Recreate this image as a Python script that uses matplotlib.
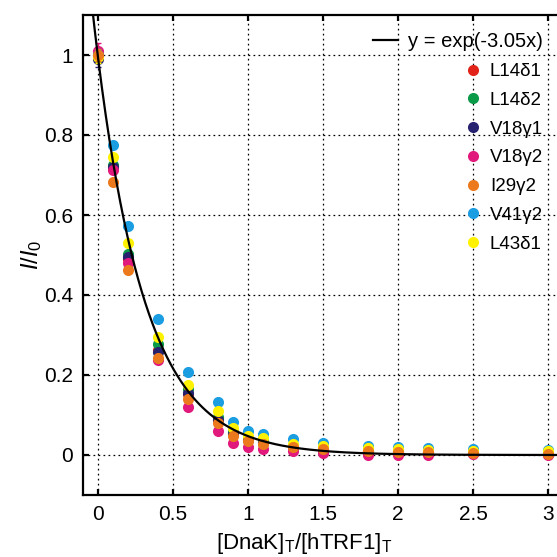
import numpy as np
import matplotlib
matplotlib.use("Agg")
import matplotlib.pyplot as plt
from matplotlib.lines import Line2D

plt.rcParams['font.family'] = ['Liberation Sans', 'DejaVu Sans']
plt.rcParams['mathtext.fontset'] = 'custom'
plt.rcParams['mathtext.rm'] = 'Liberation Sans'
plt.rcParams['mathtext.it'] = 'Liberation Sans:italic'

# ---- data ----
x_ratio = [0, 0.1, 0.2, 0.4, 0.6, 0.8, 0.9, 1.0, 1.1, 1.3, 1.5, 1.8, 2.0, 2.2, 2.5, 3.0]

labels = ['L14δ1', 'L14δ2', 'V18γ1', 'V18γ2', 'I29γ2', 'V41γ2', 'L43δ1']
colors = ['#e2231a', '#0b9a48', '#27226f', '#e2197c', '#ec7a1c', '#1b9de2', '#fff200']

L14d1 = [1.00, 0.718, 0.490, 0.262, 0.152, 0.090, 0.055, 0.040, 0.032, 0.021, 0.014, 0.010, 0.009, 0.007, 0.005, 0.003]
L14d2 = [1.00, 0.726, 0.503, 0.278, 0.165, 0.095, 0.057, 0.042, 0.034, 0.022, 0.015, 0.011, 0.010, 0.008, 0.006, 0.004]
V18g1 = [0.99, 0.720, 0.494, 0.257, 0.155, 0.088, 0.053, 0.038, 0.031, 0.020, 0.013, 0.010, 0.008, 0.007, 0.005, 0.003]
V18g2 = [1.01, 0.712, 0.480, 0.238, 0.119, 0.060, 0.031, 0.020, 0.014, 0.010, 0.004, 0.001, 0.001, 0.001, 0.002, 0.001]
I29g2 = [1.00, 0.683, 0.462, 0.243, 0.140, 0.081, 0.048, 0.035, 0.027, 0.020, 0.014, 0.010, 0.008, 0.008, 0.006, 0.003]
V41g2 = [1.00, 0.776, 0.573, 0.341, 0.207, 0.133, 0.083, 0.060, 0.052, 0.039, 0.029, 0.023, 0.021, 0.017, 0.014, 0.013]
L43d1 = [0.995, 0.745, 0.529, 0.296, 0.176, 0.109, 0.067, 0.048, 0.042, 0.028, 0.022, 0.018, 0.016, 0.013, 0.011, 0.009]
series = [L14d1, L14d2, V18g1, V18g2, I29g2, V41g2, L43d1]
err_at_zero = [0.015, 0.015, 0.02, 0.02, 0.015, 0.015, 0.015]
draw_rank = [1, 2, 3, 4, 7, 5, 6]

fit_rate = 3.05

xticks = [0, 0.5, 1, 1.5, 2, 2.5, 3]
xticklabels = ['0', '0.5', '1', '1.5', '2', '2.5', '3']
yticks = [0, 0.2, 0.4, 0.6, 0.8, 1]
yticklabels = ['0', '0.2', '0.4', '0.6', '0.8', '1']

# ---- figure ----
W = H = 557
fig = plt.figure(figsize=(W / 100, H / 100), dpi=100)
ax = fig.add_axes([82.7 / W, 62 / H, (W - 82.7) / W, 480 / H])
ax.set_xlim(-0.1, (W - 82.7) / 150.1 - 0.1)
ax.set_ylim(-0.1, 1.1)

ax.grid(True, color='black', linestyle=(0, (1.4, 2.6)), linewidth=0.9)
ax.set_axisbelow(True)

handles = []
for lab, col, ys, e, zr in zip(labels, colors, series, err_at_zero, draw_rank):
    ax.errorbar([x_ratio[0]], [ys[0]], yerr=[e], fmt='none', ecolor=col,
                elinewidth=1.0, capsize=2.0, capthick=1.0, zorder=2 + zr * 0.1)
    ax.plot(x_ratio, ys, 'o', color=col, markersize=8.0, markeredgewidth=0,
            zorder=2 + zr * 0.1)
    handles.append(Line2D([], [], marker='o', linestyle='none', color=col,
                          markersize=8.0, markeredgewidth=0, label=lab))

xf = np.linspace(-0.1, 3.1, 400)
fit_line, = ax.plot(xf, np.exp(-fit_rate * xf), color='black', linewidth=1.6,
                    zorder=5, label='y = exp(-3.05x)')

for s in ['left', 'bottom', 'top']:
    ax.spines[s].set_linewidth(1.6)
ax.spines['right'].set_visible(False)

ax.set_xticks(xticks)
ax.set_xticklabels(xticklabels)
ax.set_yticks(yticks)
ax.set_yticklabels(yticklabels)
ax.tick_params(direction='in', length=4.5, width=1.6, labelsize=15, pad=7,
               top=True)

ax.set_xlabel(r'[DnaK]$_\mathregular{T}$/[hTRF1]$_\mathregular{T}$', fontsize=16)
ax.xaxis.set_label_coords((304 - 82.7) / (W - 82.7), -0.075)
ax.set_ylabel(r'$\mathit{I/I}_{\mathit{0}}$', fontsize=17)
ax.yaxis.set_label_coords((44 - 82.7) / (W - 82.7), 0.5)

leg1 = ax.legend(handles=[fit_line], loc='upper right',
                 bbox_to_anchor=(543 / W, (H - 32) / H),
                 bbox_transform=fig.transFigure, frameon=False, fontsize=14.5,
                 handlelength=1.25, handletextpad=0.5, borderpad=0, borderaxespad=0)
ax.add_artist(leg1)
ax.legend(handles=handles, loc='upper right',
          bbox_to_anchor=(543 / W, (H - 63) / H),
          bbox_transform=fig.transFigure, frameon=False, fontsize=13.5,
          handlelength=0.6, handletextpad=0.6, borderpad=0, borderaxespad=0,
          labelspacing=0.62)

fig.savefig('out.png', dpi=100)
